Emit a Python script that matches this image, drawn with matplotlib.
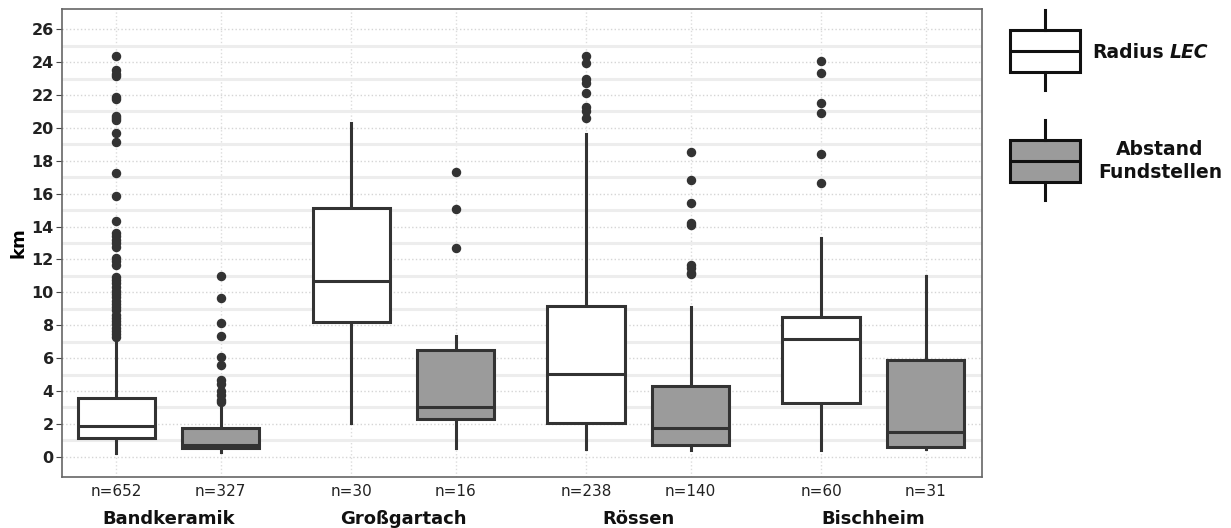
import matplotlib.pyplot as plt
import numpy as np

plt.rcParams['font.family'] = ['DejaVu Sans']

# groups and sample sizes
groups = ['Bandkeramik', 'Großgartach', 'Rössen', 'Bischheim']
n_lec = [652, 30, 238, 60]
n_abst = [327, 16, 140, 31]

# box stats (km): whislo, q1, med, q3, whishi
lec_stats = [
    [0.20, 1.12, 1.89, 3.55, 7.20],
    [2.03, 8.21, 10.69, 15.11, 20.32],
    [0.45, 2.07, 5.03, 9.19, 19.61],
    [0.41, 3.29, 7.14, 8.48, 13.32],
]
abst_stats = [
    [0.30, 0.51, 0.72, 1.73, 3.15],
    [0.51, 2.27, 3.04, 6.49, 7.34],
    [0.41, 0.71, 1.73, 4.32, 9.13],
    [0.45, 0.61, 1.48, 5.88, 11.01],
]

# outliers
lec_out = [
    [24.39, 23.52, 23.30, 23.16, 21.85, 21.75, 20.75, 20.60, 20.50, 19.67, 19.16,
     17.27, 15.88, 14.36, 13.63, 13.40, 13.20, 13.00, 12.77, 12.07, 11.90, 11.66,
     10.95, 10.75, 10.55, 10.35, 10.10, 9.90, 9.70, 9.50, 9.30, 9.10, 8.90, 8.65,
     8.45, 8.25, 8.05, 7.85, 7.65, 7.45, 7.30],
    [],
    [24.39, 23.93, 23.00, 22.75, 22.14, 21.25, 21.05, 20.58],
    [24.07, 23.36, 21.53, 20.89, 18.41, 16.63],
]
abst_out = [
    [10.99, 9.63, 8.11, 7.34, 6.08, 5.58, 4.66, 4.45, 4.00, 3.75, 3.45, 3.35],
    [17.30, 15.09, 12.68],
    [18.55, 16.83, 15.41, 14.20, 14.10, 11.66, 11.50, 11.20, 11.10],
    [],
]

edge = '#333333'
gray_fill = '#9b9b9b'
offset = 0.222
width = 0.33


def make_stats(stats, outs, ns):
    res = []
    for s, o, n in zip(stats, outs, ns):
        res.append(dict(whislo=s[0], q1=s[1], med=s[2], q3=s[3], whishi=s[4],
                        fliers=o, label='n=%d' % n))
    return res


fig = plt.figure(figsize=(12.31, 5.28), dpi=100)
ax = fig.add_axes([62 / 1231, 51 / 528, 920 / 1231, 468 / 528])

centers = np.arange(1, len(groups) + 1)
pos_lec = centers - offset
pos_abst = centers + offset

# grid: solid light lines at odd values, dotted at the ticks
ax.set_yticks(np.arange(0, 27, 2))
ax.set_yticks(np.arange(1, 27, 2), minor=True)
ax.grid(which='minor', axis='y', color='#ededed', lw=2.2, ls='-', zorder=0)
ax.grid(which='major', axis='y', color='#d5d5d5', lw=1.0, ls=':', zorder=0)
for p in np.concatenate([pos_lec, pos_abst]):
    ax.axvline(p, color='#dcdcdc', lw=1.0, ls=':', zorder=0)

common = dict(widths=width, patch_artist=True, showcaps=False, manage_ticks=False,
              medianprops=dict(color=edge, lw=2.2),
              whiskerprops=dict(color=edge, lw=2.2),
              flierprops=dict(marker='o', markerfacecolor=edge, markeredgecolor=edge,
                              markersize=5.8))
b1 = ax.bxp(make_stats(lec_stats, lec_out, n_lec), positions=pos_lec,
            boxprops=dict(facecolor='white', edgecolor=edge, lw=2.2), **common)
b2 = ax.bxp(make_stats(abst_stats, abst_out, n_abst), positions=pos_abst,
            boxprops=dict(facecolor=gray_fill, edgecolor=edge, lw=2.2), **common)
for art in b1['boxes'] + b2['boxes']:
    art.set_zorder(3)
for art in b1['medians'] + b2['medians']:
    art.set_zorder(4)

ax.set_xlim(0.547, 4.462)
ax.set_ylim(-1.23, 27.23)

xt = []
xl = []
for pl, pa, a, b in zip(pos_lec, pos_abst, n_lec, n_abst):
    xt += [pl, pa]
    xl += ['n=%d' % a, 'n=%d' % b]
ax.set_xticks(xt)
ax.set_xticklabels(xl, fontsize=11, color='#222222')
ax.tick_params(axis='x', length=0, pad=5)
ax.tick_params(axis='y', which='major', length=4, color='#444444', labelsize=11.5, pad=2)
ax.tick_params(axis='y', which='minor', length=0)
for lab in ax.get_yticklabels():
    lab.set_fontweight('bold')
    lab.set_color('#222222')

for c, g in zip(centers, groups):
    ax.text(c, -0.07, g, transform=ax.get_xaxis_transform(), ha='center', va='top',
            fontsize=13, fontweight='bold', color='#111111')

ax.set_ylabel('km', fontsize=13, fontweight='bold', labelpad=3)

for s in ax.spines.values():
    s.set_color('#666666')
    s.set_linewidth(1.2)

# legend keys
lax = fig.add_axes([990 / 1231, 0, 110 / 1231, 1])
lax.axis('off')
key_lec = [dict(whislo=90, q1=72, med=51, q3=30, whishi=10, fliers=[])]
key_abst = [dict(whislo=200, q1=182, med=161, q3=140, whishi=120, fliers=[])]
for key, fc in [(key_lec, 'white'), (key_abst, gray_fill)]:
    kb = lax.bxp(key, positions=[0.5], widths=0.64, patch_artist=True, showcaps=False,
                 boxprops=dict(facecolor=fc, edgecolor='#111111', lw=2.2),
                 medianprops=dict(color='#111111', lw=2.2),
                 whiskerprops=dict(color='#111111', lw=2.2), manage_ticks=False)
    kb['medians'][0].set_zorder(4)
lax.set_xlim(0, 1)
lax.set_ylim(528, 0)

fig.text(1092 / 1231, 1 - 53 / 528, 'Radius', fontsize=13.5, fontweight='bold',
         ha='left', va='center', color='#111111')
fig.text(1170 / 1231, 1 - 53 / 528, 'LEC', fontsize=13.5, fontweight='bold',
         style='italic', ha='left', va='center', color='#111111')
fig.text(1160 / 1231, 1 - 161 / 528, 'Abstand\nFundstellen', fontsize=13.5,
         fontweight='bold', ha='center', va='center', linespacing=1.25, color='#111111')

fig.savefig('out.png', dpi=100)
